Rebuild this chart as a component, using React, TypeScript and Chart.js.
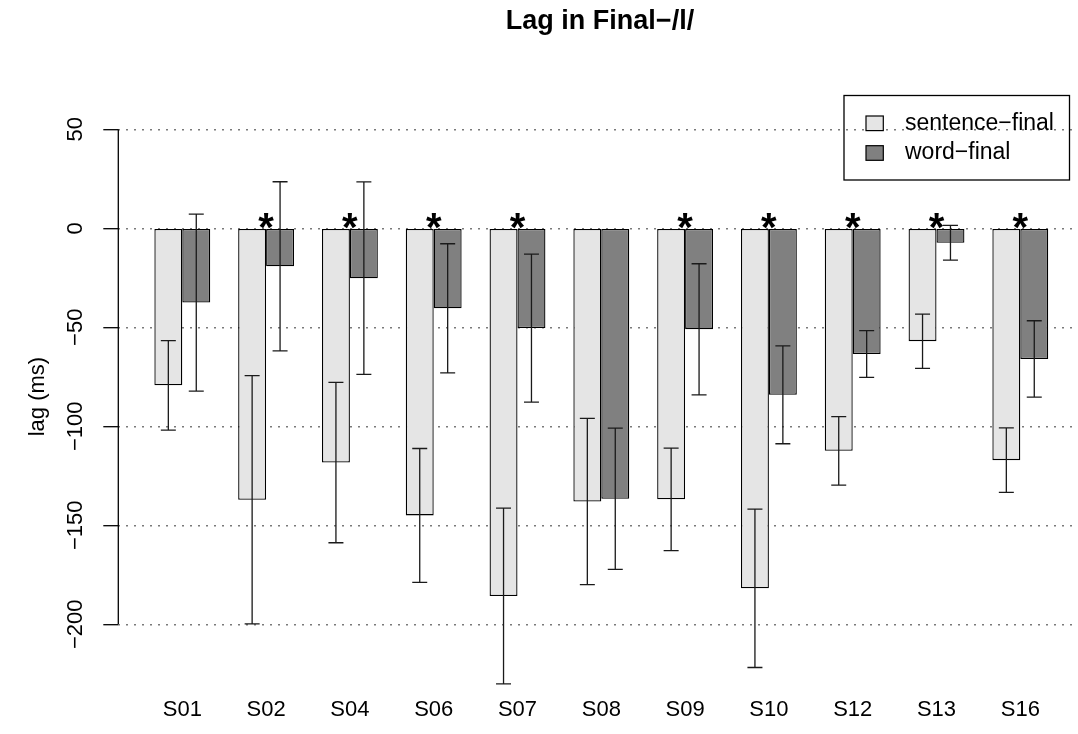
import React, { useEffect, useRef } from 'react';
import { Chart, registerables } from 'chart.js';

Chart.register(...registerables);

// ---- data ----
const categories = ['S01', 'S02', 'S04', 'S06', 'S07', 'S08', 'S09', 'S10', 'S12', 'S13', 'S16'];
const sentenceFinal = [-79.3, -137.1, -118.3, -145.0, -185.7, -138.0, -136.9, -181.8, -112.4, -57.0, -117.1];
const sentenceFinalErr = [22.6, 62.7, 40.5, 33.8, 44.4, 42.0, 25.9, 40.0, 17.3, 13.7, 16.3];
const wordFinal = [-37.5, -19.2, -25.2, -40.4, -50.4, -136.6, -51.0, -84.1, -63.5, -7.3, -66.0];
const wordFinalErr = [44.7, 42.7, 48.6, 32.6, 37.4, 35.7, 33.1, 24.7, 11.8, 8.8, 19.3];
const significant = [false, true, true, true, true, false, true, true, true, true, true];
const yTicks = [50, 0, -50, -100, -150, -200];
const seriesLabels = ['sentence\u2212final', 'word\u2212final'];
const titleText = 'Lag in Final\u2212/l/';
const yTitle = 'lag (ms)';

// ---- layout / style ----
const FONT = "'Liberation Sans', Arial, Helvetica, sans-serif";
const CANVAS_W = 1200;
const CANVAS_H = 734;
const Y_AXIS_W = 118.3;
const X_AXIS_H = 38.4;
const FIRST_CENTER = 182.3;
const GROUP_PX = 83.8;
const X_MIN = -(FIRST_CENTER - Y_AXIS_W) / GROUP_PX;
const X_MAX = X_MIN + (CANVAS_W - Y_AXIS_W) / GROUP_PX;

const fmt = (v: number) => (v < 0 ? '\u2212' + Math.abs(v) : String(v));

const extrasPlugin = {
  id: 'extras',
  afterDatasetsDraw(chart: any) {
    const ctx = chart.ctx;
    const ys = chart.scales.y;
    const xs = chart.scales.x;
    ctx.save();
    // error bars
    const errs = [sentenceFinalErr, wordFinalErr];
    const vals = [sentenceFinal, wordFinal];
    ctx.strokeStyle = '#1a1a1a';
    ctx.lineWidth = 1.3;
    errs.forEach((errArr, di) => {
      const meta = chart.getDatasetMeta(di);
      meta.data.forEach((bar: any, i: number) => {
        const v = vals[di][i];
        const yT = ys.getPixelForValue(v + errArr[i]);
        const yB = ys.getPixelForValue(v - errArr[i]);
        const cap = 7.5;
        ctx.beginPath();
        ctx.moveTo(bar.x, yT);
        ctx.lineTo(bar.x, yB);
        ctx.moveTo(bar.x - cap, yT);
        ctx.lineTo(bar.x + cap, yT);
        ctx.moveTo(bar.x - cap, yB);
        ctx.lineTo(bar.x + cap, yB);
        ctx.stroke();
      });
    });
    // significance asterisks
    ctx.fillStyle = '#000';
    ctx.font = `bold 40px ${FONT}`;
    ctx.textAlign = 'center';
    ctx.textBaseline = 'alphabetic';
    const y0 = ys.getPixelForValue(0);
    significant.forEach((s, i) => {
      if (!s) return;
      ctx.fillText('*', xs.getPixelForValue(i), y0 + 13);
    });
    // y axis line (from first to last tick)
    ctx.strokeStyle = '#000';
    ctx.lineWidth = 1.3;
    ctx.beginPath();
    ctx.moveTo(chart.chartArea.left, ys.getPixelForValue(yTicks[0]));
    ctx.lineTo(chart.chartArea.left, ys.getPixelForValue(yTicks[yTicks.length - 1]));
    ctx.stroke();
    // legend box
    const lx = 844, ly = 95.5, lw = 225.5, lh = 84.5;
    ctx.lineWidth = 1.3;
    ctx.strokeRect(lx, ly, lw, lh);
    const rows = [123.3, 153];
    ctx.font = `23px ${FONT}`;
    ctx.textAlign = 'left';
    ctx.textBaseline = 'middle';
    chart.data.datasets.forEach((ds: any, di: number) => {
      const cy = rows[di];
      ctx.fillStyle = ds.backgroundColor;
      ctx.fillRect(866, cy - 7.3, 17.3, 14.6);
      ctx.strokeStyle = '#000';
      ctx.lineWidth = 1.2;
      ctx.strokeRect(866, cy - 7.3, 17.3, 14.6);
      ctx.fillStyle = '#000';
      ctx.fillText(ds.label, 905, cy);
    });
    ctx.restore();
  },
};

export default function App() {
  const ref = useRef<HTMLCanvasElement | null>(null);
  useEffect(() => {
    if (!ref.current) return;
    const chart = new Chart(ref.current, {
      type: 'bar',
      data: {
        datasets: [
          {
            label: seriesLabels[0],
            data: sentenceFinal.map((v, i) => ({ x: i, y: v })),
            backgroundColor: '#e5e5e5',
            borderColor: '#000',
            borderWidth: 1.3,
            borderSkipped: false,
            categoryPercentage: 2 / 3,
            barPercentage: 1,
          },
          {
            label: seriesLabels[1],
            data: wordFinal.map((v, i) => ({ x: i, y: v })),
            backgroundColor: '#808080',
            borderColor: '#000',
            borderWidth: 1.3,
            borderSkipped: false,
            categoryPercentage: 2 / 3,
            barPercentage: 1,
          },
        ],
      } as any,
      options: {
        responsive: false,
        animation: false,
        devicePixelRatio: 1,
        layout: { padding: 0 },
        plugins: {
          legend: { display: false },
          tooltip: { enabled: false },
          title: {
            display: true,
            text: titleText,
            color: '#000',
            font: { family: FONT, size: 27, weight: 'bold' },
            padding: { top: 5.8, bottom: 59.4 },
          },
        },
        scales: {
          x: {
            type: 'linear',
            min: X_MIN,
            max: X_MAX,
            offset: false,
            bounds: 'data',
            afterBuildTicks: (s: any) => {
              s.ticks = categories.map((_, i) => ({ value: i }));
            },
            afterFit: (s: any) => {
              s.height = X_AXIS_H;
            },
            ticks: {
              autoSkip: false,
              minRotation: 0,
              maxRotation: 0,
              padding: 1.5,
              color: '#000',
              font: { family: FONT, size: 22 },
              callback: (v: any) => categories[v as number] ?? '',
            },
            grid: { display: false, drawTicks: false },
            border: { display: false },
          },
          y: {
            type: 'linear',
            min: -236,
            max: 66,
            bounds: 'data',
            afterBuildTicks: (s: any) => {
              s.ticks = yTicks.map((v) => ({ value: v }));
            },
            afterFit: (s: any) => {
              s.width = Y_AXIS_W;
            },
            ticks: {
              minRotation: 90,
              maxRotation: 90,
              crossAlign: 'center',
              padding: 2.2,
              color: '#000',
              font: { family: FONT, size: 22 },
              callback: (v: any) => fmt(v as number),
            },
            grid: {
              color: '#7a7a7a',
              lineWidth: 1.4,
              tickColor: '#000',
              tickLength: 15,
              tickWidth: 1.3,
              tickBorderDash: [],
            },
            border: { display: false, dash: [2, 6] },
            title: {
              display: true,
              text: yTitle,
              color: '#000',
              font: { family: FONT, size: 22 },
              padding: { top: 24.5, bottom: 0 },
            },
          },
        },
      } as any,
      plugins: [extrasPlugin],
    });
    return () => chart.destroy();
  }, []);

  return (
    <div
      style={{
        position: 'fixed',
        left: 0,
        top: 0,
        width: 1078,
        height: 734,
        overflow: 'hidden',
        background: '#fff',
      }}
    >
      <canvas
        ref={ref}
        width={CANVAS_W}
        height={CANVAS_H}
        style={{ display: 'block', width: CANVAS_W, height: CANVAS_H }}
      />
    </div>
  );
}
